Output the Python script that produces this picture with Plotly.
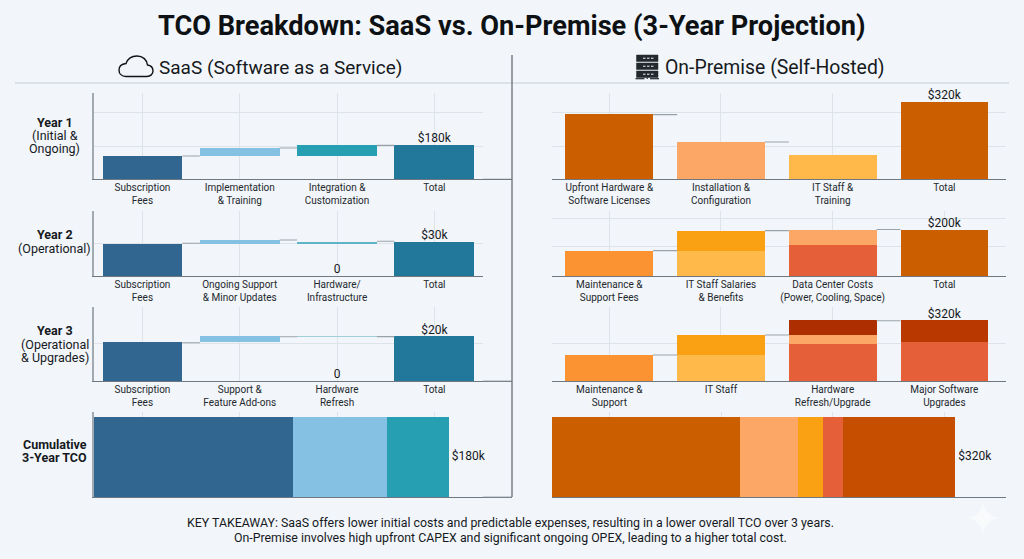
import plotly.graph_objects as go

W, H = 1024, 559
FONT = "Roboto"
INK = "#16191d"
GRID = "#dde3e9"
AXIS = "#6f7880"

# ---------- data (estimated $k, read per panel from the picture) ----------
y1_saas_labels = ["Subscription<br>Fees", "Implementation<br>& Training", "Integration &<br>Customization", "Total"]
y1_saas_base = [0, 124, 124, 0]
y1_saas_vals = [124, 42, 56, 180]
y1_saas_colors = ["#30668f", "#84c1e2", "#269fb3", "#21789a"]
y1_saas_ticks = [173, 352]
y1_saas_max = 455
y1_saas_text = ["", "", "", "$180k"]

y2_saas_labels = ["Subscription<br>Fees", "Ongoing Support<br>& Minor Updates", "Hardware/<br>Infrastructure", "Total"]
y2_saas_base = [0, 28.9, 28.9, 0]
y2_saas_vals = [28.9, 2.9, 1.75, 30]
y2_saas_colors = ["#30668f", "#84c1e2", "#5fb3c6", "#21789a"]
y2_saas_ticks = [28.9]
y2_saas_max = 57.4
y2_saas_text = ["", "", "0", "$30k"]

y3_saas_labels = ["Subscription<br>Fees", "Support &<br>Feature Add-ons", "Hardware<br>Refresh", "Total"]
y3_saas_base = [0, 17.3, 19.9, 0]
y3_saas_vals = [17.3, 2.7, 0.15, 20]
y3_saas_colors = ["#30668f", "#84c1e2", "#9fd0da", "#21789a"]
y3_saas_ticks = [17]
y3_saas_max = 33.2
y3_saas_text = ["", "", "0", "$20k"]

y1_prem_labels = ["Upfront Hardware &<br>Software Licenses", "Installation &<br>Configuration", "IT Staff &<br>Training", "Total"]
y1_prem_layer1 = [268.5, 155, 101, 320]
y1_prem_colors1 = ["#cb5f00", "#fda766", "#ffb84a", "#cb5f00"]
y1_prem_ticks = [136, 276]
y1_prem_max = 357
y1_prem_text = ["", "", "", "$320k"]
y1_prem_links = [True, True, False]

y2_prem_labels = ["Maintenance &<br>Support Fees", "IT Staff Salaries<br>& Benefits", "Data Center Costs<br>(Power, Cooling, Space)", "Total"]
y2_prem_layer1 = [110, 110, 134, 200]
y2_prem_colors1 = ["#fb9333", "#ffb84a", "#e55f38", "#cb5f00"]
y2_prem_layer2 = [0, 86, 67, 0]
y2_prem_colors2 = ["#fb9333", "#f9a013", "#fda766", "#cb5f00"]
y2_prem_ticks = [127, 249]
y2_prem_max = 281.5
y2_prem_text = ["", "", "", "$200k"]
y2_prem_links = [True, True, True]

y3_prem_labels = ["Maintenance &<br>Support", "IT Staff", "Hardware<br>Refresh/Upgrade", "Major Software<br>Upgrades"]
y3_prem_layer1 = [139, 139, 197, 205]
y3_prem_colors1 = ["#fb9333", "#ffb84a", "#e55f38", "#e55f38"]
y3_prem_layer2 = [0, 106, 46, 115]
y3_prem_colors2 = ["#fb9333", "#f9a013", "#fda766", "#b93800"]
y3_prem_layer3 = [0, 0, 77, 0]
y3_prem_colors3 = ["#fb9333", "#f9a013", "#ad2e00", "#b93800"]
y3_prem_ticks = [201]
y3_prem_max = 391
y3_prem_text = ["", "", "", "$320k"]
y3_prem_links = [True, True, True]

cum_saas_vals = [101, 47.7, 31.3]
cum_saas_colors = ["#30668f", "#84c1e2", "#269fb3"]
cum_saas_text = "$180k"
cum_saas_total = 180

cum_prem_vals = [149.2, 46, 19.6, 16.3, 88.9]
cum_prem_colors = ["#cb5f00", "#fda766", "#f9a013", "#e55f38", "#c64e00"]
cum_prem_text = "$320k"
cum_prem_total = 320

row_labels = [
    (135.5, ["Year 1", "(Initial &", "Ongoing)"]),
    (241.5, ["Year 2", "(Operational)"]),
    (344, ["Year 3", "(Operational", "& Upgrades)"]),
    (451, ["Cumulative", "3-Year TCO"]),
]
title_text = "TCO Breakdown: SaaS vs. On-Premise (3-Year Projection)"
saas_header = "SaaS (Software as a Service)"
prem_header = "On-Premise (Self-Hosted)"
takeaway = [
    "KEY TAKEAWAY: SaaS offers lower initial costs and predictable expenses, resulting in a lower overall TCO over 3 years.",
    "On-Premise involves high upfront CAPEX and significant ongoing OPEX, leading to a higher total cost.",
]

# ---------- layout helpers (pixel frame of the picture) ----------
def px(x):
    return x / W

def py(y):
    return 1 - y / H

fig = go.Figure()
layout = {}
shapes = []
annotations = []
axis_n = [0]

SAAS_X = (94, 483)
PREM_X = (552, 1006)
SAAS_RANGE = [-0.498, 3.5]
PREM_RANGE = [-0.513, 3.552]
SAAS_BW = 0.82
PREM_BW = 0.785
TICKFONT = dict(family=FONT, size=10, color="#24282d")


def new_axes():
    axis_n[0] += 1
    n = axis_n[0]
    sx = "" if n == 1 else str(n)
    return "x" + sx, "y" + sx, "xaxis" + sx, "yaxis" + sx


def panel(xdom, ydom, xrange, bw, labels, layers, ticks, ymax, text, links, yline, standoff, bases=None):
    xa, ya, xk, yk = new_axes()
    layout[xk] = dict(
        domain=[px(xdom[0]), px(xdom[1])], range=xrange, tickmode="array",
        tickvals=list(range(len(labels))), ticktext=labels, tickfont=TICKFONT,
        showgrid=True, gridcolor=GRID, gridwidth=1, zeroline=False,
        showline=True, linecolor=AXIS, linewidth=1.2, ticks="", anchor=ya,
        automargin=False, fixedrange=True, ticklabelstandoff=standoff,
    )
    layout[yk] = dict(
        domain=[py(ydom[1]), py(ydom[0])], range=[0, ymax], tickmode="array",
        tickvals=ticks, showticklabels=False, showgrid=True, gridcolor=GRID, gridwidth=1,
        zeroline=False, showline=yline, linecolor="#a2aab1", linewidth=1.5, ticks="",
        anchor=xa, fixedrange=True,
    )
    xs = list(range(len(labels)))
    tops = [0.0] * len(labels)
    for i, (vals, colors) in enumerate(layers):
        base = bases if (bases is not None and i == 0) else tops
        fig.add_trace(go.Bar(x=xs, y=vals, base=list(base), width=bw, xaxis=xa, yaxis=ya,
                             marker=dict(color=colors, line_width=0), showlegend=False))
        tops = [b + v for b, v in zip(base, vals)]
    for i, on in enumerate(links):
        if on:
            fig.add_trace(go.Scatter(x=[i + bw / 2, i + 1 - bw / 2], y=[tops[i], tops[i]], mode="lines",
                                     line=dict(color="#9aa2a9", width=1.1), xaxis=xa, yaxis=ya,
                                     showlegend=False, hoverinfo="skip"))
    lab_x = [i for i, t in enumerate(text) if t]
    lab_y = [0 if text[i] == "0" else tops[i] for i in lab_x]
    fig.add_trace(go.Scatter(x=lab_x, y=lab_y, text=[text[i] for i in lab_x],
                             mode="text", textposition="top center", cliponaxis=False,
                             textfont=dict(family=FONT, size=12, color=INK), xaxis=xa, yaxis=ya,
                             showlegend=False, hoverinfo="skip"))


def cumulative(xdom, ydom, axis_max, grid_px, vals, colors, text, total, yline):
    xa, ya, xk, yk = new_axes()
    span = xdom[1] - xdom[0]
    layout[xk] = dict(
        domain=[px(xdom[0]), px(xdom[1])], range=[0, axis_max], tickmode="array",
        tickvals=[(g - xdom[0]) / span * axis_max for g in grid_px], showticklabels=False,
        showgrid=True, gridcolor=GRID, zeroline=False, showline=True, linecolor=AXIS,
        linewidth=1.2, ticks="", anchor=ya, fixedrange=True,
    )
    layout[yk] = dict(
        domain=[py(ydom[1]), py(ydom[0])], range=[-0.5, 0.566], showticklabels=False,
        showgrid=False, zeroline=False, showline=yline, linecolor="#a2aab1", linewidth=1.5,
        ticks="", anchor=xa, fixedrange=True,
    )
    left = 0.0
    for v, c in zip(vals, colors):
        fig.add_trace(go.Bar(x=[v], y=[0], base=[left], width=1, orientation="h", xaxis=xa, yaxis=ya,
                             marker=dict(color=c, line_width=0), showlegend=False))
        left += v
    fig.add_trace(go.Scatter(x=[total], y=[0], text=["\u00a0" + text], mode="text", textposition="middle right",
                             cliponaxis=False, textfont=dict(family=FONT, size=12, color=INK),
                             xaxis=xa, yaxis=ya, showlegend=False, hoverinfo="skip"))


panel(SAAS_X, (93.3, 179.4), SAAS_RANGE, SAAS_BW, y1_saas_labels, [(y1_saas_vals, y1_saas_colors)],
      y1_saas_ticks, y1_saas_max, y1_saas_text, [True, True, True], True, -2, bases=y1_saas_base)
panel(SAAS_X, (210.7, 276.3), SAAS_RANGE, SAAS_BW, y2_saas_labels, [(y2_saas_vals, y2_saas_colors)],
      y2_saas_ticks, y2_saas_max, y2_saas_text, [True, True, True], True, -1, bases=y2_saas_base)
panel(SAAS_X, (307.3, 381.3), SAAS_RANGE, SAAS_BW, y3_saas_labels, [(y3_saas_vals, y3_saas_colors)],
      y3_saas_ticks, y3_saas_max, y3_saas_text, [True, True, True], True, -1, bases=y3_saas_base)
panel(PREM_X, (93.3, 179.4), PREM_RANGE, PREM_BW, y1_prem_labels, [(y1_prem_layer1, y1_prem_colors1)],
      y1_prem_ticks, y1_prem_max, y1_prem_text, y1_prem_links, False, -2)
panel(PREM_X, (210.7, 276.3), PREM_RANGE, PREM_BW, y2_prem_labels,
      [(y2_prem_layer1, y2_prem_colors1), (y2_prem_layer2, y2_prem_colors2)],
      y2_prem_ticks, y2_prem_max, y2_prem_text, y2_prem_links, False, -1)
panel(PREM_X, (307.3, 381.3), PREM_RANGE, PREM_BW, y3_prem_labels,
      [(y3_prem_layer1, y3_prem_colors1), (y3_prem_layer2, y3_prem_colors2), (y3_prem_layer3, y3_prem_colors3)],
      y3_prem_ticks, y3_prem_max, y3_prem_text, y3_prem_links, False, -1)
cumulative(SAAS_X, (412, 497.3), (483 - 94) / (448.7 - 94) * cum_saas_total, [142.5, 239.5, 337, 434.5],
           cum_saas_vals, cum_saas_colors, cum_saas_text, cum_saas_total, True)
cumulative(PREM_X, (412, 497.3), (1006 - 552) / (955.3 - 552) * cum_prem_total, [609.3, 721, 832.7, 944.3],
           cum_prem_vals, cum_prem_colors, cum_prem_text, cum_prem_total, False)


# ---------- furniture ----------
def line(x0, y0, x1, y1, color, width, layer="below"):
    shapes.append(dict(type="line", xref="paper", yref="paper", x0=px(x0), y0=py(y0), x1=px(x1), y1=py(y1),
                       line=dict(color=color, width=width), layer=layer))


line(15, 83, 1009, 83, "#c4cbd1", 1.2)
line(512, 55, 512, 497, "#5c646b", 1.2)
for yb in (179.4, 381.3, 497.3):
    line(483, yb, 512, yb, AXIS, 1.2)


def path(cmds, **kw):
    out = []
    for c in cmds:
        if isinstance(c, str):
            out.append(c)
        else:
            out.append(f"{px(c[0]):.5f},{py(c[1]):.5f}")
    shapes.append(dict(type="path", xref="paper", yref="paper", path=" ".join(out), **kw))


# cloud icon
path(["M", (126, 76.5), "C", (121, 76.5), (119, 73), (119, 70), "C", (119, 66), (122, 64), (126, 63.5),
      "C", (128, 58), (133, 56), (137, 56), "C", (143, 56), (147, 60), (147.5, 65),
      "C", (151, 65.5), (153, 68), (153, 71), "C", (153, 74), (150.5, 76.5), (147, 76.5), "Z"],
     line=dict(color="#111417", width=1.4))

# server icon
for top in (55, 63, 71):
    path(["M", (636.5, top), "L", (658, top), "L", (658, top + 6.5), "L", (636.5, top + 6.5), "Z"],
         fillcolor="#23282d", line=dict(color="#23282d", width=0.5))
    for dx in (643, 647, 651):
        line(dx, top + 3.2, dx + 2.5, top + 3.2, "#f2f6fa", 1, layer="above")
line(647.2, 77.5, 647.2, 79, "#23282d", 1.2, layer="above")
for a, b in ((635.5, 644.5), (650, 659)):
    line(a, 78.7, b, 78.7, "#23282d", 1.2, layer="above")

# corner sparkle
path(["M", (983, 501), "Q", (984.5, 516.5), (1000, 518), "Q", (984.5, 519.5), (983, 536),
      "Q", (981.5, 519.5), (966, 518), "Q", (981.5, 516.5), (983, 501), "Z"],
     fillcolor="rgba(255,255,255,0.45)", line=dict(width=0), layer="above")


def text(x, y, s, size, bold=False, anchor="center", color=INK):
    annotations.append(dict(xref="paper", yref="paper", x=px(x), y=py(y), text=f"<b>{s}</b>" if bold else s,
                            showarrow=False, xanchor=anchor, yanchor="middle",
                            font=dict(family=FONT, size=size, color=color)))


text(512, 26, title_text, 27.2, bold=True, color="#0e1114")
text(280.5, 67, saas_header, 19)
text(774.5, 67, prem_header, 19.4)
for cy, lines in row_labels:
    y = cy - (len(lines) - 1) * 13.4 / 2
    is_cum = lines[0].startswith("Cumulative")
    for j, t in enumerate(lines):
        text(89 if is_cum else 54.5, y + j * 13.4, t, 12.5, bold=is_cum or j == 0, anchor="right" if is_cum else "center")
for j, t in enumerate(takeaway):
    text(510, 522.5 + j * 15, t, 12.35)

fig.update_layout(
    width=W, height=H, margin=dict(l=0, r=0, t=0, b=0), autosize=False,
    paper_bgcolor="#f2f6fa", plot_bgcolor="rgba(0,0,0,0)", barmode="overlay",
    bargap=0, showlegend=False, shapes=shapes, annotations=annotations,
    font=dict(family=FONT), **layout,
)
fig.write_html("out.html", config=dict(displayModeBar=False),
               post_script="document.body.style.margin='0';document.body.style.overflow='hidden';document.body.style.background='#f2f6fa';")
